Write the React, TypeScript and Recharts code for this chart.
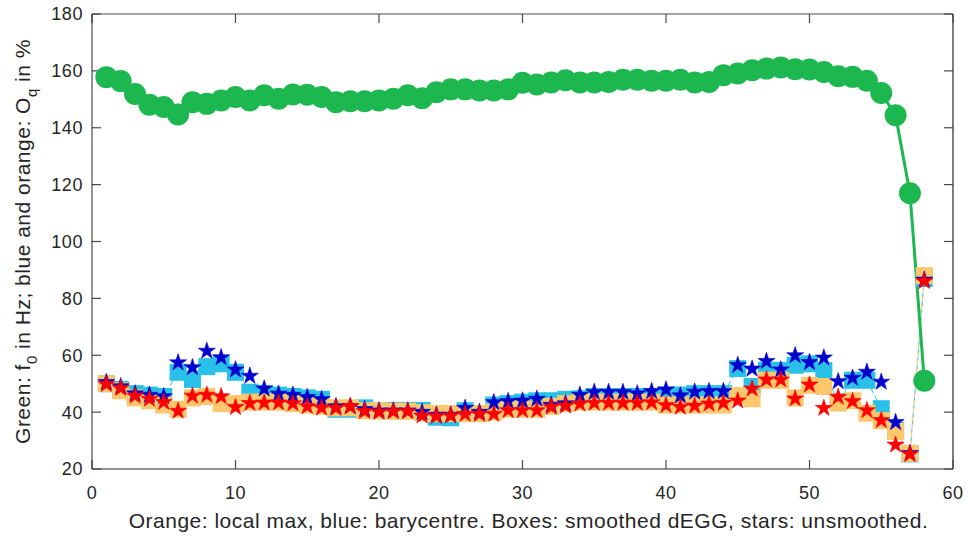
import React from 'react';
import { ComposedChart, Line, XAxis, YAxis } from 'recharts';

const frames = [1,2,3,4,5,6,7,8,9,10,11,12,13,14,15,16,17,18,19,20,21,22,23,24,25,26,27,28,29,30,31,32,33,34,35,36,37,38,39,40,41,42,43,44,45,46,47,48,49,50,51,52,53,54,55,56,57,58];

const f0Hz = [157.8,156.4,151.9,148.1,147.3,144.7,149,148.4,149.6,150.8,149.6,151.4,150.2,151.7,151.6,150.8,149,149.3,149.3,149.6,150.2,151.4,150.4,152.5,153.5,153.5,153.1,153.1,153.5,155.8,155.2,155.9,156.7,155.9,155.9,156.1,156.9,156.9,156.5,156.5,156.9,155.9,156.1,158.5,159.1,160.2,160.8,161.2,160.6,160.5,159.6,158.1,157.9,156.5,152.2,144.4,117,51];

const oqBaryBox = [50,48,46.5,46,45.5,54,51.5,56,57,54,47,46.5,46,45.5,45,44.5,41,41,41.5,40.5,40.6,40.6,40.6,38.2,38,40.5,39.5,42.5,43,43.5,44,44,44.5,44.7,45.5,45.5,45.5,45.5,45.5,46,46,46.5,46.5,46.5,55.3,49,54.7,54.7,56.5,57,54.6,43.6,51.2,51.2,41.2,33.5,25.3,87];

const oqMaxBox = [50,47.5,45,44,42.5,41,45,45.5,43,43,43.5,43.5,43.5,43,42.5,42,41.5,41.5,40.5,40.5,40.3,40.3,39.8,39.5,39.5,39.5,39.5,40,41,41,41,42,43,43.5,43.5,43.5,43.5,43.5,43.5,42.5,42.5,42.5,42.5,42.5,45.8,44.7,51.2,51.2,45,49.4,49,43.2,44,39.6,37,33.2,25.5,88];

const oqBaryStar = [50.5,49,46.5,46,45.5,57.4,55.7,61.5,59.2,54.9,52.7,48.2,46.4,46,45.2,44.5,42,42,41,40.5,40.5,40.5,40,39,39,41.4,40,43.4,43.8,44,44.6,42.5,43,46,47,47,47,46.5,47.3,47.9,45.8,47.1,47.3,47.3,56.5,55.2,57.9,54.9,59.9,57.5,59.1,50.8,52,54.1,50.6,36.4,25.5,86.5];

const oqMaxStar = [49.8,48.4,45.7,44.6,43.5,40.4,45.7,46,45.5,41.7,43.1,43.3,43.3,43,42,41.5,41.4,42,40.3,40,40.2,40.2,38.7,38.5,38.7,39.3,39.3,39.3,40.6,40.6,40.6,41.8,42.2,42.9,43.2,43.2,43.2,43.2,43.4,42.4,41.8,42.2,42.9,43.2,44,48.2,51.4,51.4,44.7,49.6,41.4,45.3,43.8,40.6,37.1,28.5,25.2,86];

const xTicks = [0,10,20,30,40,50,60];
const yTicks = [20,40,60,80,100,120,140,160,180];
const X_DOMAIN = [0, 60];
const Y_DOMAIN = [20, 180];

const xLabelText = 'Orange: local max, blue: barycentre. Boxes: smoothed dEGG, stars: unsmoothed.';

const data = frames.map((x, i) => ({
  x,
  f0: f0Hz[i],
  bbox: oqBaryBox[i],
  obox: oqMaxBox[i],
  bstar: oqBaryStar[i],
  rstar: oqMaxStar[i],
}));

const GREEN = '#1cb84f';
const LIGHTBLUE = '#29c1e8';
const ORANGE = '#fec76b';
const DARKBLUE = '#0000cd';
const RED = '#ff0000';
const AXIS = '#262626';
const FRAME = '#4a4a4a';
const FONT = '"Liberation Sans", Arial, Helvetica, sans-serif';

const W = 967;
const H = 537;
const M = { top: 14, right: 14, bottom: 28, left: 0 };
const YAXIS_W = 92;
const XAXIS_H = 40;
const PLOT_L = M.left + YAXIS_W;
const PLOT_R = W - M.right;
const PLOT_T = M.top;
const PLOT_B = H - M.bottom - XAXIS_H;
const TICK_PX = 9;

function starPath(cx: number, cy: number, R: number) {
  const r = R * 0.382;
  let d = '';
  for (let i = 0; i < 10; i++) {
    const a = (-90 + i * 36) * Math.PI / 180;
    const rad = i % 2 === 0 ? R : r;
    const px = cx + rad * Math.cos(a);
    const py = cy + rad * Math.sin(a);
    d += (i === 0 ? 'M' : 'L') + px.toFixed(2) + ',' + py.toFixed(2);
  }
  return d + 'Z';
}

const boxDot = (color: string) => (p: any) => {
  if (p.cx == null || p.cy == null) return <g key={p.index} />;
  const s = 17;
  return <rect key={p.index} x={p.cx - s / 2} y={p.cy - s / 2} width={s} height={s} fill={color} stroke="none" />;
};

const starDot = (color: string) => (p: any) => {
  if (p.cx == null || p.cy == null) return <g key={p.index} />;
  return <path key={p.index} d={starPath(p.cx, p.cy, 9)} fill={color} stroke={color} strokeWidth={0.6} />;
};

const circleDot = (p: any) => {
  if (p.cx == null || p.cy == null) return <g key={p.index} />;
  return <circle key={p.index} cx={p.cx} cy={p.cy} r={11} fill={GREEN} stroke="none" />;
};

const XTick = (p: any) => {
  const { x, y, payload } = p;
  return (
    <text x={x} y={y} dy="0.71em" textAnchor="middle" fontSize={18} letterSpacing={0.6} fill={AXIS} fontFamily={FONT}>
      {payload.value}
    </text>
  );
};

const YTick = (p: any) => {
  const { x, y, payload } = p;
  return (
    <text x={x} y={y} dy="0.355em" textAnchor="end" fontSize={18} letterSpacing={0.6} fill={AXIS} fontFamily={FONT}>
      {payload.value}
    </text>
  );
};

// Box frame with inward tick marks (axis decoration)
const Frame = () => {
  const xPos = (v: number) => PLOT_L + ((v - X_DOMAIN[0]) / (X_DOMAIN[1] - X_DOMAIN[0])) * (PLOT_R - PLOT_L);
  const yPos = (v: number) => PLOT_B - ((v - Y_DOMAIN[0]) / (Y_DOMAIN[1] - Y_DOMAIN[0])) * (PLOT_B - PLOT_T);
  return (
    <g className="frame-ticks">
      <line x1={PLOT_L} x2={PLOT_R} y1={PLOT_T} y2={PLOT_T} stroke={FRAME} strokeWidth={1.2} />
      <line x1={PLOT_R} x2={PLOT_R} y1={PLOT_T} y2={PLOT_B} stroke={AXIS} strokeWidth={1.2} />
      {xTicks.map((v) => (
        <g key={'xt' + v}>
          <line x1={xPos(v)} x2={xPos(v)} y1={PLOT_B} y2={PLOT_B - TICK_PX} stroke={FRAME} strokeWidth={1.2} />
          <line x1={xPos(v)} x2={xPos(v)} y1={PLOT_T} y2={PLOT_T + TICK_PX} stroke={FRAME} strokeWidth={1.2} />
        </g>
      ))}
      {yTicks.map((v) => (
        <g key={'yt' + v}>
          <line x1={PLOT_L} x2={PLOT_L + TICK_PX} y1={yPos(v)} y2={yPos(v)} stroke={FRAME} strokeWidth={1.2} />
          <line x1={PLOT_R} x2={PLOT_R - TICK_PX} y1={yPos(v)} y2={yPos(v)} stroke={FRAME} strokeWidth={1.2} />
        </g>
      ))}
    </g>
  );
};

const XLabel = () => (
  <g>
    <Frame />
    <text x={(PLOT_L + PLOT_R) / 2 + 6} y={528} textAnchor="middle" fontSize={21} letterSpacing={0.5} fill={AXIS} fontFamily={FONT}>
      {xLabelText}
    </text>
  </g>
);

const YLabel = () => (
  <text
    x={-((PLOT_T + PLOT_B) / 2)}
    y={30}
    transform="rotate(-90)"
    fontSize={21}
    letterSpacing={0.5}
    fill={AXIS}
    fontFamily={FONT}
    textAnchor="middle"
  >
    Green: f<tspan fontSize={15} dy={7}>0</tspan><tspan dy={-7}> in Hz; blue and orange: O</tspan><tspan fontSize={15} dy={7}>q</tspan><tspan dy={-7}> in %</tspan>
  </text>
);

export default function App() {
  return (
    <div style={{ position: 'absolute', left: 0, top: 0, background: '#fff' }}>
      <ComposedChart width={W} height={H} data={data} margin={M}>
        <XAxis
          xAxisId="b"
          type="number"
          dataKey="x"
          domain={X_DOMAIN}
          ticks={xTicks}
          allowDataOverflow
          height={XAXIS_H}
          tickSize={0}
          tickMargin={17}
          tickLine={false}
          stroke={AXIS}
          tick={XTick}
          label={<XLabel />}
        />
        <YAxis
          yAxisId="l"
          type="number"
          domain={Y_DOMAIN}
          ticks={yTicks}
          allowDataOverflow
          width={YAXIS_W}
          tickSize={0}
          tickMargin={9}
          tickLine={false}
          stroke={AXIS}
          tick={YTick}
          label={<YLabel />}
        />
        <Line xAxisId="b" yAxisId="l" dataKey="bbox" stroke={LIGHTBLUE} strokeWidth={1} strokeDasharray="5 3" dot={boxDot(LIGHTBLUE)} isAnimationActive={false} />
        <Line xAxisId="b" yAxisId="l" dataKey="obox" stroke={ORANGE} strokeWidth={1} strokeDasharray="5 3" dot={boxDot(ORANGE)} isAnimationActive={false} />
        <Line xAxisId="b" yAxisId="l" dataKey="bstar" stroke="none" dot={starDot(DARKBLUE)} isAnimationActive={false} />
        <Line xAxisId="b" yAxisId="l" dataKey="rstar" stroke="none" dot={starDot(RED)} isAnimationActive={false} />
        <Line xAxisId="b" yAxisId="l" dataKey="f0" stroke={GREEN} strokeWidth={3} dot={circleDot} isAnimationActive={false} />
      </ComposedChart>
    </div>
  );
}
